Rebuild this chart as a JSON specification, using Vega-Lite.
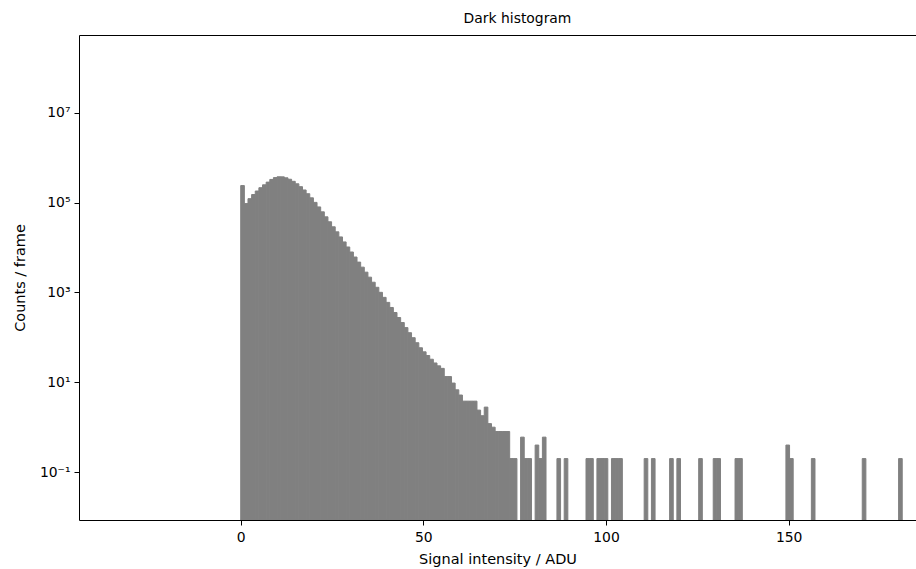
{
  "$schema": "https://vega.github.io/schema/vega-lite/v6.json",
  "width": 837,
  "height": 485,
  "autosize": "none",
  "padding": {"left": 79, "top": 35, "right": 0, "bottom": 49},
  "background": "white",
  "title": {"text": "Dark histogram", "font": "DejaVu Sans", "fontSize": 13.9, "fontWeight": "normal", "color": "black", "offset": 9, "dx": 20},
  "config": {"view": {"stroke": null}},
  "data": {"values": [
    {"lo": 0, "hi": 0.995, "n": 240000},
    {"lo": 0.995, "hi": 1.99, "n": 95280},
    {"lo": 1.99, "hi": 2.985, "n": 122740},
    {"lo": 2.985, "hi": 3.98, "n": 151710},
    {"lo": 3.98, "hi": 4.975, "n": 181550},
    {"lo": 4.975, "hi": 5.97, "n": 215280},
    {"lo": 5.97, "hi": 6.965, "n": 249460},
    {"lo": 6.965, "hi": 7.96, "n": 286420},
    {"lo": 7.96, "hi": 8.955, "n": 328850},
    {"lo": 8.955, "hi": 9.95, "n": 361410},
    {"lo": 9.95, "hi": 10.945, "n": 376700},
    {"lo": 10.945, "hi": 11.94, "n": 374970},
    {"lo": 11.94, "hi": 12.935, "n": 357290},
    {"lo": 12.935, "hi": 13.93, "n": 331890},
    {"lo": 13.93, "hi": 14.925, "n": 298540},
    {"lo": 14.925, "hi": 15.92, "n": 263030},
    {"lo": 15.92, "hi": 16.915, "n": 226990},
    {"lo": 16.915, "hi": 17.91, "n": 191430},
    {"lo": 17.91, "hi": 18.905, "n": 158120},
    {"lo": 18.905, "hi": 19.9, "n": 127940},
    {"lo": 19.9, "hi": 20.895, "n": 101390},
    {"lo": 20.895, "hi": 21.89, "n": 80350},
    {"lo": 21.89, "hi": 22.885, "n": 62370},
    {"lo": 22.885, "hi": 23.88, "n": 48310},
    {"lo": 23.88, "hi": 24.875, "n": 37500},
    {"lo": 24.875, "hi": 25.87, "n": 28970},
    {"lo": 25.87, "hi": 26.865, "n": 22390},
    {"lo": 26.865, "hi": 27.86, "n": 17260},
    {"lo": 27.86, "hi": 28.855, "n": 13340},
    {"lo": 28.855, "hi": 29.85, "n": 10300},
    {"lo": 29.85, "hi": 30.845, "n": 7960},
    {"lo": 30.845, "hi": 31.84, "n": 6150},
    {"lo": 31.84, "hi": 32.835, "n": 4740},
    {"lo": 32.835, "hi": 33.83, "n": 3660},
    {"lo": 33.83, "hi": 34.825, "n": 2830},
    {"lo": 34.825, "hi": 35.82, "n": 2190},
    {"lo": 35.82, "hi": 36.815, "n": 1690},
    {"lo": 36.815, "hi": 37.81, "n": 1303},
    {"lo": 37.81, "hi": 38.805, "n": 1007},
    {"lo": 38.805, "hi": 39.8, "n": 778},
    {"lo": 39.8, "hi": 40.795, "n": 601},
    {"lo": 40.795, "hi": 41.79, "n": 463},
    {"lo": 41.79, "hi": 42.785, "n": 358},
    {"lo": 42.785, "hi": 43.78, "n": 277},
    {"lo": 43.78, "hi": 44.775, "n": 214},
    {"lo": 44.775, "hi": 45.77, "n": 165},
    {"lo": 45.77, "hi": 46.765, "n": 127},
    {"lo": 46.765, "hi": 47.76, "n": 98.4},
    {"lo": 47.76, "hi": 48.755, "n": 76.0},
    {"lo": 48.755, "hi": 49.75, "n": 58.7},
    {"lo": 49.75, "hi": 50.745, "n": 47.6},
    {"lo": 50.745, "hi": 51.74, "n": 39.4},
    {"lo": 51.74, "hi": 52.735, "n": 32.6},
    {"lo": 52.735, "hi": 53.73, "n": 26.9},
    {"lo": 53.73, "hi": 54.725, "n": 23.2},
    {"lo": 54.725, "hi": 55.72, "n": 20.4},
    {"lo": 55.72, "hi": 56.715, "n": 13.4},
    {"lo": 56.715, "hi": 57.71, "n": 13.4},
    {"lo": 57.71, "hi": 58.705, "n": 9.6},
    {"lo": 58.705, "hi": 59.7, "n": 6.8},
    {"lo": 59.7, "hi": 60.695, "n": 5.2},
    {"lo": 60.695, "hi": 61.69, "n": 3.8},
    {"lo": 61.69, "hi": 62.685, "n": 3.8},
    {"lo": 62.685, "hi": 63.68, "n": 3.8},
    {"lo": 63.68, "hi": 64.675, "n": 3.8},
    {"lo": 64.675, "hi": 65.67, "n": 2.4},
    {"lo": 65.67, "hi": 66.665, "n": 1.8},
    {"lo": 66.665, "hi": 67.66, "n": 2.8},
    {"lo": 67.66, "hi": 68.655, "n": 1.2},
    {"lo": 68.655, "hi": 69.65, "n": 1.0},
    {"lo": 69.65, "hi": 70.645, "n": 0.8},
    {"lo": 70.645, "hi": 71.64, "n": 0.8},
    {"lo": 71.64, "hi": 72.635, "n": 0.8},
    {"lo": 72.635, "hi": 73.63, "n": 0.8},
    {"lo": 73.63, "hi": 74.625, "n": 0.2},
    {"lo": 74.625, "hi": 75.62, "n": 0.2},
    {"lo": 76.615, "hi": 77.61, "n": 0.6},
    {"lo": 77.61, "hi": 78.605, "n": 0.2},
    {"lo": 78.605, "hi": 79.6, "n": 0.2},
    {"lo": 80.595, "hi": 81.59, "n": 0.4},
    {"lo": 81.59, "hi": 82.585, "n": 0.2},
    {"lo": 82.585, "hi": 83.58, "n": 0.6},
    {"lo": 86.565, "hi": 87.56, "n": 0.2},
    {"lo": 88.555, "hi": 89.55, "n": 0.2},
    {"lo": 94.525, "hi": 95.52, "n": 0.2},
    {"lo": 95.52, "hi": 96.515, "n": 0.2},
    {"lo": 97.51, "hi": 98.505, "n": 0.2},
    {"lo": 98.505, "hi": 99.5, "n": 0.2},
    {"lo": 99.5, "hi": 100.495, "n": 0.2},
    {"lo": 101.49, "hi": 102.485, "n": 0.2},
    {"lo": 102.485, "hi": 103.48, "n": 0.2},
    {"lo": 103.48, "hi": 104.475, "n": 0.2},
    {"lo": 110.445, "hi": 111.44, "n": 0.2},
    {"lo": 112.435, "hi": 113.43, "n": 0.2},
    {"lo": 117.41, "hi": 118.405, "n": 0.2},
    {"lo": 119.4, "hi": 120.395, "n": 0.2},
    {"lo": 125.37, "hi": 126.365, "n": 0.2},
    {"lo": 129.35, "hi": 130.345, "n": 0.2},
    {"lo": 130.345, "hi": 131.34, "n": 0.2},
    {"lo": 135.32, "hi": 136.315, "n": 0.2},
    {"lo": 136.315, "hi": 137.31, "n": 0.2},
    {"lo": 149.25, "hi": 150.245, "n": 0.4},
    {"lo": 150.245, "hi": 151.24, "n": 0.2},
    {"lo": 156.215, "hi": 157.21, "n": 0.2},
    {"lo": 170.145, "hi": 171.14, "n": 0.2},
    {"lo": 180.095, "hi": 181.09, "n": 0.2}
  ]},
  "layer": [
    {
      "mark": {"type": "bar", "color": "#808080", "stroke": "#808080", "strokeWidth": 1, "clip": true},
      "encoding": {
        "x": {
          "field": "lo", "type": "quantitative",
          "scale": {"domain": [-44.27, 184.86], "nice": false, "zero": false},
          "axis": {
            "orient": "bottom", "values": [0, 50, 100, 150], "grid": false,
            "domainColor": "black", "domainWidth": 1, "tickColor": "black", "tickSize": 5, "tickWidth": 1,
            "labelFont": "DejaVu Sans", "labelFontSize": 13.9, "labelColor": "black", "labelPadding": 5,
            "title": "Signal intensity / ADU", "titleFont": "DejaVu Sans", "titleFontSize": 14.5,
            "titleFontWeight": "normal", "titleColor": "black", "titlePadding": 9
          }
        },
        "x2": {"field": "hi"},
        "y": {
          "field": "n", "type": "quantitative",
          "scale": {"type": "log", "domain": [0.00857, 541000000], "nice": false},
          "axis": {
            "values": [0.1, 10, 1000, 100000, 10000000], "grid": false,
            "labelExpr": "datum.value < 1 ? '10⁻¹' : datum.value < 100 ? '10¹' : datum.value < 10000 ? '10³' : datum.value < 1000000 ? '10⁵' : '10⁷'",
            "domainColor": "black", "domainWidth": 1, "tickColor": "black", "tickSize": 5, "tickWidth": 1,
            "labelFont": "DejaVu Sans", "labelFontSize": 13.9, "labelColor": "black", "labelPadding": 4,
            "title": "Counts / frame", "titleFont": "DejaVu Sans", "titleFontSize": 14.5,
            "titleFontWeight": "normal", "titleColor": "black", "titleX": -55, "titleBaseline": "alphabetic"
          }
        },
        "y2": {"value": "height"}
      }
    },
    {
      "mark": {"type": "bar", "opacity": 0},
      "encoding": {
        "x": {"field": "lo", "type": "quantitative",
          "axis": {"orient": "top", "labels": false, "ticks": false, "title": null, "grid": false, "domainColor": "black", "domainWidth": 1}},
        "x2": {"field": "hi"},
        "y": {"field": "n", "type": "quantitative"},
        "y2": {"value": "height"}
      }
    }
  ],
  "resolve": {"axis": {"x": "independent"}}
}
